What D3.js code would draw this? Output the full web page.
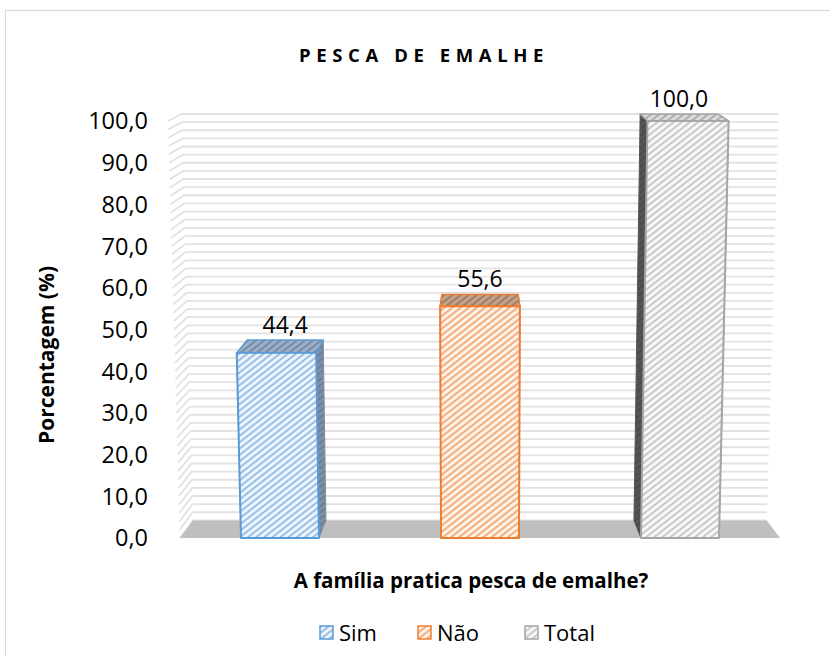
<!DOCTYPE html>
<html><head><meta charset="utf-8">
<script src="https://cdn.jsdelivr.net/npm/d3@7"></script>
<style>body{margin:0;background:#fff}svg{display:block}</style>
</head><body>
<svg id="c" width="830" height="656"></svg>
<script>
const categories = ["Sim", "Não", "Total"];
const values = [44.4, 55.6, 100.0];
const yTicks = [0, 10, 20, 30, 40, 50, 60, 70, 80, 90, 100];
const gridStep = 2;
const title = "PESCA DE EMALHE";
const xTitle = "A família pratica pesca de emalhe?";
const yTitle = "Porcentagem (%)";

const colors = {
  Sim:   {stroke:"#5B9BD5", bg:"#eef4fb", stripe:"#8dbbe6", topBg:"#9fb0c6", topStripe:"#6f86a6", side:"#7d90a8"},
  "Não": {stroke:"#ED7D31", bg:"#fef3eb", stripe:"#f5a872", topBg:"#c2a48c", topStripe:"#9c7a60", side:"#a08060"},
  Total: {stroke:"#A5A5A5", bg:"#f7f7f7", stripe:"#c4c4c4", topBg:"#dcdcdc", topStripe:"#a8a8a8", side:"#555555"}
};

const svg = d3.select("#c");
const font = "'Open Sans', Calibri, sans-serif";

// border
svg.append("rect").attr("x",5.5).attr("y",10.5).attr("width",840).attr("height",660)
  .attr("fill","#fff").attr("stroke","#d9d9d9").attr("stroke-width",1.2);

const defs = svg.append("defs");
function pattern(id, bg, stripe, w){
  const p = defs.append("pattern").attr("id",id).attr("patternUnits","userSpaceOnUse")
    .attr("width",5).attr("height",5).attr("patternTransform","rotate(52)");
  p.append("rect").attr("width",5).attr("height",5).attr("fill",bg);
  p.append("line").attr("x1",1).attr("y1",0).attr("x2",1).attr("y2",5).attr("stroke",stripe).attr("stroke-width",w||1.8);
}
categories.forEach((c,i)=>{
  const k = colors[c];
  pattern("f"+i, k.bg, k.stripe);
  pattern("t"+i, k.topBg, k.topStripe);
  pattern("s"+i, k.side, d3.color(k.side).darker(0.5), 1.5);
});

// scales
const y = d3.scaleLinear().domain([0,100]).range([538,121]);
const x = d3.scaleBand().domain(categories).range([180,780]).paddingInner(0.61).paddingOuter(0.305);
const VX = 479;
function P(xw, v, d){
  const s = 1 + 0.0004*v;
  const yf = y(v);
  const xf = VX + (xw - VX)*s;
  return [xf + d*0.0435*(VX - xf), yf - d*0.0254*(yf + 155)];
}
const [X0, X1] = x.range();

// walls gridlines
const grid = d3.range(0, 100 + 0.001, gridStep);
const gg = svg.append("g").attr("stroke","#e2e2e2").attr("stroke-width",1.8).attr("fill","none");
grid.forEach(v=>{
  const a = P(X0, v, 0), b = P(X0, v, 1), c = P(X1, v, 1);
  gg.append("polyline").attr("points",[a,b,c].map(p=>p.join(",")).join(" "));
});

// floor
svg.append("polygon").attr("points",[P(X0,0,0),P(X1,0,0),P(X1,0,1),P(X0,0,1)].map(p=>p.join(",")).join(" "))
  .attr("fill","#bfbfbf");

// bars
const pts = arr => arr.map(p=>p.join(",")).join(" ");
categories.forEach((c,i)=>{
  const k = colors[c];
  const xl = x(c), xr = x(c) + x.bandwidth(), v = values[i];
  const g = svg.append("g");
  const flb=P(xl,0,0), frb=P(xr,0,0), flt=P(xl,v,0), frt=P(xr,v,0);
  const blb=P(xl,0,1), brb=P(xr,0,1), blt=P(xl,v,1), brt=P(xr,v,1);
  g.append("polygon").attr("points",pts([frb,frt,brt,brb])).attr("fill","url(#s"+i+")")
    .attr("stroke",k.side).attr("stroke-width",1);
  g.append("polygon").attr("points",pts([flb,flt,blt,blb])).attr("fill","url(#s"+i+")")
    .attr("stroke",k.side).attr("stroke-width",1);
  g.append("polygon").attr("points",pts([flt,frt,brt,blt])).attr("fill","url(#t"+i+")")
    .attr("stroke",k.stroke).attr("stroke-width",1.5).attr("stroke-linejoin","round");
  g.append("polygon").attr("points",pts([flb,frb,frt,flt])).attr("fill","url(#f"+i+")")
    .attr("stroke",k.stroke).attr("stroke-width",2).attr("stroke-linejoin","round");
  const cx = (blt[0]+brt[0])/2;
  svg.append("text").attr("x",cx).attr("y",blt[1]-7).attr("text-anchor","middle")
    .attr("font-family",font).attr("font-size",23).attr("fill","#000")
    .text(d3.format(".1f")(v).replace(".",","));
});

// y axis labels
svg.append("g").selectAll("text").data(yTicks).join("text")
  .attr("x",148).attr("y",d=>y(d)).attr("dy","0.36em").attr("text-anchor","end")
  .attr("font-family",font).attr("font-size",23.5).attr("fill","#000")
  .text(d=>d3.format(".1f")(d).replace(".",","));

// titles
svg.append("text").attr("x",424).attr("y",62).attr("text-anchor","middle")
  .attr("font-family",font).attr("font-weight","bold").attr("font-size",18.5)
  .attr("letter-spacing","5.6px").attr("fill","#000").text(title);
svg.append("text").attr("x",471).attr("y",588).attr("text-anchor","middle")
  .attr("font-family",font).attr("font-weight","bold").attr("font-size",20.5).attr("fill","#000").text(xTitle);
svg.append("text").attr("transform","translate(54,355) rotate(-90)").attr("text-anchor","middle")
  .attr("font-family",font).attr("font-weight","bold").attr("font-size",21).attr("fill","#000").text(yTitle);

// legend
const legX = [320, 418, 525];
const lg = svg.append("g");
categories.forEach((c,i)=>{
  const k = colors[c];
  lg.append("rect").attr("x",legX[i]).attr("y",626).attr("width",13).attr("height",13)
    .attr("fill","url(#f"+i+")").attr("stroke",k.stroke).attr("stroke-width",1.5);
  lg.append("text").attr("x",legX[i]+19).attr("y",633).attr("dy","0.36em")
    .attr("font-family",font).attr("font-size",22).attr("fill","#000").text(c);
});
</script>
</body></html>
